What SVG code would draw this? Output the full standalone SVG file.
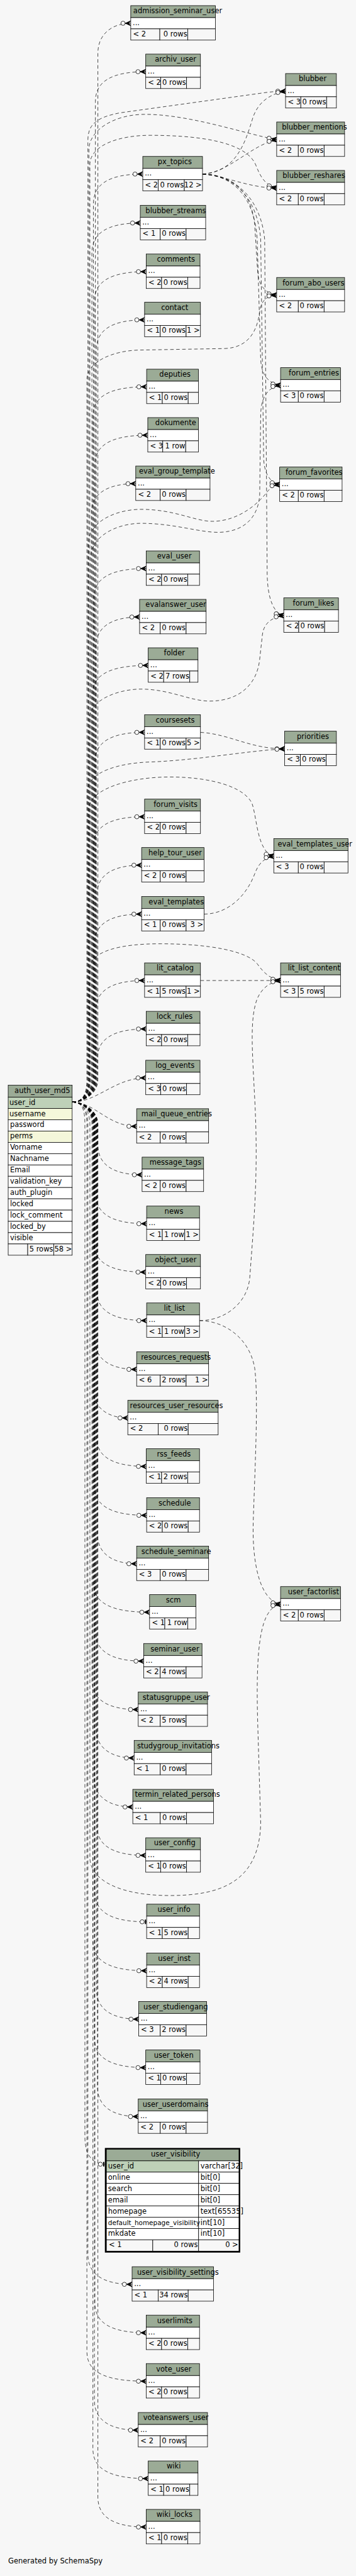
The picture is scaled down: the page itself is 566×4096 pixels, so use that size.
<svg xmlns="http://www.w3.org/2000/svg" width="566" height="4096" viewBox="0 0 566 4096">
<style>
.h{fill:#9bab96;stroke:#000;stroke-width:1}
.b{fill:#fff;stroke:#000;stroke-width:1}
.f{fill:#f7f7f7;stroke:#000;stroke-width:1}
.pk{fill:#bed1b8;stroke:#000;stroke-width:1}
.ix{fill:#f4f7da;stroke:#000;stroke-width:1}
text{font-family:"DejaVu Sans","Liberation Sans",sans-serif;font-size:14.5px;fill:#000}
.r{text-anchor:end}
.e path{fill:none;stroke:#000;stroke-width:0.9;stroke-dasharray:7 5}
</style>
<defs>
<marker id="crow" markerUnits="userSpaceOnUse" markerWidth="24" markerHeight="14" refX="22" refY="7" orient="auto" overflow="visible">
<path d="M11,7 L22,2 L18,7 L22,12 Z M11,7 L22,7" fill="#000" stroke="#000" stroke-width="1"/>
<circle cx="6.5" cy="7" r="4.2" fill="#fff" stroke="#000" stroke-width="1"/>
</marker>
<marker id="tee" markerUnits="userSpaceOnUse" markerWidth="16" markerHeight="14" refX="14" refY="7" orient="auto" overflow="visible">
<circle cx="5" cy="7" r="4.2" fill="#fff" stroke="#000" stroke-width="1"/>
<rect x="10.5" y="2.5" width="2.5" height="9" fill="#000"/>
</marker>
</defs>
<rect x="0" y="0" width="566" height="4096" fill="#f7f7f7"/>
<g transform="scale(0.794)">
<g id="connectors" class="e" marker-end="url(#crow)">
<path d="M144.5,2207 C165,2207 196,2192 196,2162 L196,106.6 C196,68.6 224,46.6 261.8,46.6"/>
<path d="M144.5,2207 C165,2207 191,2192 191,2162 L191,203.6 C191,165.6 219,143.6 291.8,143.6"/>
<path d="M144.5,2207 C165,2207 187,2192 187,2162 L187,408.6 C187,370.6 215,348.6 285.9,348.6"/>
<path d="M144.5,2207 C165,2207 184,2192 184,2162 L184,506.6 C184,468.6 212,446.6 280.9,446.6"/>
<path d="M144.5,2207 C165,2207 189,2192 189,2162 L189,604 C189,566 217,544 292.7,544"/>
<path d="M144.5,2207 C165,2207 193,2192 193,2162 L193,700.6 C193,662.6 221,640.6 289.5,640.6"/>
<path d="M144.5,2207 C165,2207 186,2192 186,2162 L186,834.6 C186,796.6 214,774.6 293.6,774.6"/>
<path d="M144.5,2207 C165,2207 190,2192 190,2162 L190,931.6 C190,893.6 218,871.6 295.9,871.6"/>
<path d="M144.5,2207 C165,2207 183,2192 183,2162 L183,1028.6 C183,990.6 211,968.6 271.8,968.6"/>
<path d="M144.5,2207 C165,2207 188,2192 188,2162 L188,1198.6 C188,1160.6 216,1138.6 292.7,1138.6"/>
<path d="M144.5,2207 C165,2207 192,2192 192,2162 L192,1295.6 C192,1257.6 220,1235.6 279.5,1235.6"/>
<path d="M144.5,2207 C165,2207 185,2192 185,2162 L185,1392.6 C185,1354.6 213,1332.6 296.8,1332.6"/>
<path d="M144.5,2207 C165,2207 190,2192 190,2162 L190,1526.6 C190,1488.6 218,1466.6 289.5,1466.6"/>
<path d="M144.5,2207 C165,2207 187,2192 187,2162 L187,1695.6 C187,1657.6 215,1635.6 289.5,1635.6"/>
<path d="M144.5,2207 C165,2207 194,2192 194,2162 L194,1792.6 C194,1754.6 222,1732.6 283.6,1732.6"/>
<path d="M144.5,2207 C165,2207 189,2192 189,2162 L189,1890.6 C189,1852.6 217,1830.6 283.6,1830.6"/>
<path d="M144.5,2207 C165,2207 192,2192 192,2162 L192,2023.6 C192,1985.6 220,1963.6 289.5,1963.6"/>
<path d="M144.5,2207 C165,2207 195,2192 195,2162 L195,2120.6 C195,2082.6 223,2060.6 292.7,2060.6"/>
<path d="M144.5,2207 C195,2207 230,2158.6 291.8,2158.6"/>
<path d="M144.5,2207 C190,2207 215,2255.6 273.6,2255.6"/>
<path d="M144.5,2207 C165,2207 196,2222 196,2252 L196,2292.6 C196,2330.6 224,2352.6 284.5,2352.6"/>
<path d="M144.5,2207 C165,2207 192,2222 192,2252 L192,2390.6 C192,2428.6 220,2450.6 293.6,2450.6"/>
<path d="M144.5,2207 C165,2207 188,2222 188,2252 L188,2487.6 C188,2525.6 216,2547.6 291.8,2547.6"/>
<path d="M144.5,2207 C165,2207 194,2222 194,2252 L194,2584.6 C194,2622.6 222,2644.6 293.6,2644.6"/>
<path d="M144.5,2207 C165,2207 190,2222 190,2252 L190,2682.3 C190,2720.3 218,2742.3 273.6,2742.3"/>
<path d="M144.5,2207 C165,2207 186,2222 186,2252 L186,2779.6 C186,2817.6 214,2839.6 255.9,2839.6"/>
<path d="M144.5,2207 C165,2207 193,2222 193,2252 L193,2876.6 C193,2914.6 221,2936.6 292.7,2936.6"/>
<path d="M144.5,2207 C165,2207 189,2222 189,2252 L189,2974.6 C189,3012.6 217,3034.6 293.6,3034.6"/>
<path d="M144.5,2207 C165,2207 195,2222 195,2252 L195,3071.6 C195,3109.6 223,3131.6 273.6,3131.6"/>
<path d="M144.5,2207 C165,2207 187,2222 187,2252 L187,3168.6 C187,3206.6 215,3228.6 299.5,3228.6"/>
<path d="M144.5,2207 C165,2207 191,2222 191,2252 L191,3266.6 C191,3304.6 219,3326.6 287.7,3326.6"/>
<path d="M144.5,2207 C165,2207 184,2222 184,2252 L184,3363.6 C184,3401.6 212,3423.6 276.8,3423.6"/>
<path d="M144.5,2207 C165,2207 192,2222 192,2252 L192,3460.6 C192,3498.6 220,3520.6 268.6,3520.6"/>
<path d="M144.5,2207 C165,2207 188,2222 188,2252 L188,3558.6 C188,3596.6 216,3618.6 265.9,3618.6"/>
<path d="M144.5,2207 C165,2207 194,2222 194,2252 L194,3655.6 C194,3693.6 222,3715.6 291.8,3715.6"/>
<path d="M144.5,2207 C165,2207 190,2222 190,2252 L190,3788.6 C190,3826.6 218,3848.6 293.6,3848.6" marker-end="url(#tee)"/>
<path d="M144.5,2207 C165,2207 186,2222 186,2252 L186,3886.6 C186,3924.6 214,3946.6 293.6,3946.6"/>
<path d="M144.5,2207 C165,2207 193,2222 193,2252 L193,3983.6 C193,4021.6 221,4043.6 277.7,4043.6"/>
<path d="M144.5,2207 C165,2207 189,2222 189,2252 L189,4080.6 C189,4118.6 217,4140.6 291.8,4140.6"/>
<path d="M144.5,2207 C165,2207 195,2222 195,2252 L195,4178.6 C195,4216.6 223,4238.6 276.8,4238.6"/>
<path d="M144.5,2207 C165,2207 170,2222 170,2252 L170,4280 C170,4315 185,4334 210,4334" marker-end="url(#tee)"/>
<path d="M144.5,2207 C165,2207 176,2222 176,2252 L176,4514.6 C176,4552.6 204,4574.6 264.5,4574.6"/>
<path d="M144.5,2207 C165,2207 190,2222 190,2252 L190,4611.6 C190,4649.6 218,4671.6 292.7,4671.6"/>
<path d="M144.5,2207 C165,2207 174,2222 174,2252 L174,4708.6 C174,4746.6 202,4768.6 292.7,4768.6"/>
<path d="M144.5,2207 C165,2207 189,2222 189,2252 L189,4806.6 C189,4844.6 217,4866.6 276.8,4866.6"/>
<path d="M144.5,2207 C165,2207 186,2222 186,2252 L186,4903.6 C186,4941.6 214,4963.6 296.8,4963.6"/>
<path d="M144.5,2207 C165,2207 196,2222 196,2252 L196,5000.6 C196,5038.6 224,5060.6 292.7,5060.6"/>
<path d="M144.5,2207 C165,2207 176,2192 176,2162 L176,280 C176,245 200,234 240,226 L520,187 C540,184 555,182.6 571.8,182.6"/>
<path d="M405.5,348.6 C470,345 490,290 505,240 C515,205 540,188 571.8,182.6"/>
<path d="M144.5,2207 C165,2207 178,2192 178,2162 L178,300 C178,260 230,229 290,229 C380,229 490,268 554,279.6"/>
<path d="M405.5,348.6 C460,345 500,292 554,279.6"/>
<path d="M144.5,2207 C165,2207 180,2192 180,2162 L180,330 C180,290 240,271 300,271 C420,271 495,290 512,330 C522,355 530,370 554,376.6"/>
<path d="M405.5,348.6 C450,352 500,376.6 554,376.6"/>
<path d="M405.5,348.6 C480,350 505,400 510,450 L516,545 C518,575 535,588 554,591"/>
<path d="M144.5,2207 C165,2207 174,2192 174,2162 L174,760 C174,725 225,702 280,701 L450,698 C500,696 515,660 520,625 C523,600 535,593 554,591"/>
<path d="M405.5,348.6 C485,352 512,420 515,480 L522,720 C524,755 540,768 561.8,771.6"/>
<path d="M144.5,2207 C165,2207 181,2192 181,2162 L181,1120 C181,1070 240,1048 282,1048 C350,1048 400,1067 440,1066 C495,1064 518,1030 520,990 L522,830 C523,790 540,775 561.8,771.6"/>
<path d="M405.5,348.6 C488,352 518,420 522,480 L528,920 C530,955 545,967 560,970.6"/>
<path d="M144.5,2207 C165,2207 177,2192 177,2162 L177,1090 C177,1040 240,1020 282,1020 C350,1020 390,1044 425,1044 C480,1044 520,1005 535,985 C543,975 550,972 560,970.6"/>
<path d="M405.5,348.6 C490,352 525,420 530,480 L535,1150 C536,1200 548,1228 568.2,1232.6"/>
<path d="M144.5,2207 C165,2207 179,2192 179,2162 L179,1440 C179,1400 240,1380 282,1380 C340,1380 380,1404 420,1404 C480,1404 515,1370 520,1320 L525,1275 C527,1245 548,1236 568.2,1232.6"/>
<path d="M401.4,1466.6 C460,1470 500,1499.6 570,1499.6"/>
<path d="M144.5,2207 C165,2207 175,2192 175,2162 L175,1585 C175,1545 240,1528 300,1526 C400,1522 490,1504 570,1499.6"/>
<path d="M144.5,2207 C165,2207 178,2192 178,2162 L178,1620 C178,1580 260,1556 340,1556 C420,1556 490,1575 505,1610 C515,1640 515,1706 548.2,1714.6"/>
<path d="M408.6,1830.6 C460,1830 495,1790 510,1750 C518,1728 530,1718 548.2,1714.6"/>
<path d="M401.4,1963.6 L561.8,1963.6"/>
<path d="M144.5,2207 C165,2207 180,2192 180,2162 L180,1940 C180,1905 240,1890 320,1890 C420,1890 495,1905 515,1930 C528,1948 540,1960 561.8,1963.6"/>
<path d="M399.5,2644.6 C450,2645 495,2610 500,2560 C508,2450 518,2350 510,2200 C505,2100 500,2040 515,2000 C525,1978 540,1967 561.8,1963.6"/>
<path d="M399.5,2644.6 C450,2645 500,2680 510,2740 C518,2800 510,2950 507,3050 C505,3130 520,3205 561.8,3212.6"/>
<path d="M144.5,2207 C165,2207 180,2222 180,2252 L180,3720 C180,3765 240,3796 340,3796 C440,3796 520,3770 522,3650 L516,3450 C512,3300 520,3220 561.8,3212.6"/>
</g>
<g id="admission_seminar_user"><rect class="h" x="261.8" y="11.3" width="169.6" height="24"/><rect class="b" x="261.8" y="35.3" width="169.6" height="22.5"/><rect class="f" x="261.8" y="57.8" width="58.2" height="22.5"/><rect class="f" x="320" y="57.8" width="55.9" height="22.5"/><rect class="f" x="375.9" y="57.8" width="55.5" height="22.5"/><text x="266.8" y="26.8">admission_seminar_user</text><text x="265.8" y="49.8">...</text><text x="266.3" y="72.8">&lt; 2</text><text class="r" x="374.9" y="72.8">0 rows</text></g>
<g id="archiv_user"><rect class="h" x="291.8" y="108.3" width="109.6" height="24"/><rect class="b" x="291.8" y="132.3" width="109.6" height="22.5"/><rect class="f" x="291.8" y="154.8" width="30" height="22.5"/><rect class="f" x="321.8" y="154.8" width="51.8" height="22.5"/><rect class="f" x="373.6" y="154.8" width="27.8" height="22.5"/><text x="310" y="123.8">archiv_user</text><text x="295.8" y="146.8">...</text><text x="296.3" y="169.8">&lt; 2</text><text class="r" x="372.6" y="169.8">0 rows</text></g>
<g id="blubber"><rect class="h" x="571.8" y="147.3" width="101.8" height="24"/><rect class="b" x="571.8" y="171.3" width="101.8" height="22.5"/><rect class="f" x="571.8" y="193.8" width="30.5" height="22.5"/><rect class="f" x="602.3" y="193.8" width="51.7" height="22.5"/><rect class="f" x="654" y="193.8" width="19.6" height="22.5"/><text x="598.2" y="162.8">blubber</text><text x="575.8" y="185.8">...</text><text x="576.3" y="208.8">&lt; 3</text><text class="r" x="653" y="208.8">0 rows</text></g>
<g id="blubber_mentions"><rect class="h" x="554" y="244.3" width="136" height="24"/><rect class="b" x="554" y="268.3" width="136" height="22.5"/><rect class="f" x="554" y="290.8" width="43.3" height="22.5"/><rect class="f" x="597.3" y="290.8" width="51.7" height="22.5"/><rect class="f" x="649" y="290.8" width="41" height="22.5"/><text x="564.5" y="259.8">blubber_mentions</text><text x="558" y="282.8">...</text><text x="558.5" y="305.8">&lt; 2</text><text class="r" x="648" y="305.8">0 rows</text></g>
<g id="px_topics"><rect class="h" x="285.9" y="313.3" width="119.6" height="24"/><rect class="b" x="285.9" y="337.3" width="119.6" height="22.5"/><rect class="f" x="285.9" y="359.8" width="30.9" height="22.5"/><rect class="f" x="316.8" y="359.8" width="52.3" height="22.5"/><rect class="f" x="369.1" y="359.8" width="36.4" height="22.5"/><text x="315.9" y="328.8">px_topics</text><text x="289.9" y="351.8">...</text><text x="290.4" y="374.8">&lt; 2</text><text class="r" x="368.1" y="374.8">0 rows</text><text class="r" x="404" y="374.8">12 &gt;</text></g>
<g id="blubber_reshares"><rect class="h" x="554" y="341.3" width="136" height="24"/><rect class="b" x="554" y="365.3" width="136" height="22.5"/><rect class="f" x="554" y="387.8" width="43.3" height="22.5"/><rect class="f" x="597.3" y="387.8" width="51.7" height="22.5"/><rect class="f" x="649" y="387.8" width="41" height="22.5"/><text x="565.9" y="356.8">blubber_reshares</text><text x="558" y="379.8">...</text><text x="558.5" y="402.8">&lt; 2</text><text class="r" x="648" y="402.8">0 rows</text></g>
<g id="blubber_streams"><rect class="h" x="280.9" y="411.3" width="130.9" height="24"/><rect class="b" x="280.9" y="435.3" width="130.9" height="22.5"/><rect class="f" x="280.9" y="457.8" width="40" height="22.5"/><rect class="f" x="320.9" y="457.8" width="51.8" height="22.5"/><rect class="f" x="372.7" y="457.8" width="39.1" height="22.5"/><text x="291.4" y="426.8">blubber_streams</text><text x="284.9" y="449.8">...</text><text x="285.4" y="472.8">&lt; 1</text><text class="r" x="371.7" y="472.8">0 rows</text></g>
<g id="comments"><rect class="h" x="292.7" y="508.7" width="107.8" height="24"/><rect class="b" x="292.7" y="532.7" width="107.8" height="22.5"/><rect class="f" x="292.7" y="555.2" width="30.9" height="22.5"/><rect class="f" x="323.6" y="555.2" width="52.3" height="22.5"/><rect class="f" x="375.9" y="555.2" width="24.6" height="22.5"/><text x="314.1" y="524.2">comments</text><text x="296.7" y="547.2">...</text><text x="297.2" y="570.2">&lt; 2</text><text class="r" x="374.9" y="570.2">0 rows</text></g>
<g id="contact"><rect class="h" x="289.5" y="605.3" width="111.9" height="24"/><rect class="b" x="289.5" y="629.3" width="111.9" height="22.5"/><rect class="f" x="289.5" y="651.8" width="31.4" height="22.5"/><rect class="f" x="320.9" y="651.8" width="51.8" height="22.5"/><rect class="f" x="372.7" y="651.8" width="28.7" height="22.5"/><text x="322.7" y="620.8">contact</text><text x="293.5" y="643.8">...</text><text x="294" y="666.8">&lt; 1</text><text class="r" x="371.7" y="666.8">0 rows</text><text class="r" x="400" y="666.8">1 &gt;</text></g>
<g id="forum_abo_users"><rect class="h" x="554" y="555.7" width="136" height="24"/><rect class="b" x="554" y="579.7" width="136" height="22.5"/><rect class="f" x="554" y="602.2" width="43.3" height="22.5"/><rect class="f" x="597.3" y="602.2" width="51.7" height="22.5"/><rect class="f" x="649" y="602.2" width="41" height="22.5"/><text x="565.9" y="571.2">forum_abo_users</text><text x="558" y="594.2">...</text><text x="558.5" y="617.2">&lt; 2</text><text class="r" x="648" y="617.2">0 rows</text></g>
<g id="forum_entries"><rect class="h" x="561.8" y="736.3" width="120" height="24"/><rect class="b" x="561.8" y="760.3" width="120" height="22.5"/><rect class="f" x="561.8" y="782.8" width="35.5" height="22.5"/><rect class="f" x="597.3" y="782.8" width="51.7" height="22.5"/><rect class="f" x="649" y="782.8" width="32.8" height="22.5"/><text x="578.2" y="751.8">forum_entries</text><text x="565.8" y="774.8">...</text><text x="566.3" y="797.8">&lt; 3</text><text class="r" x="648" y="797.8">0 rows</text></g>
<g id="deputies"><rect class="h" x="293.6" y="739.3" width="103.7" height="24"/><rect class="b" x="293.6" y="763.3" width="103.7" height="22.5"/><rect class="f" x="293.6" y="785.8" width="31.4" height="22.5"/><rect class="f" x="325" y="785.8" width="51.8" height="22.5"/><rect class="f" x="376.8" y="785.8" width="20.5" height="22.5"/><text x="319.1" y="754.8">deputies</text><text x="297.6" y="777.8">...</text><text x="298.1" y="800.8">&lt; 1</text><text class="r" x="375.8" y="800.8">0 rows</text></g>
<g id="dokumente"><rect class="h" x="295.9" y="836.3" width="101.4" height="24"/><rect class="b" x="295.9" y="860.3" width="101.4" height="22.5"/><rect class="f" x="295.9" y="882.8" width="30" height="22.5"/><rect class="f" x="325.9" y="882.8" width="45.9" height="22.5"/><rect class="f" x="371.8" y="882.8" width="25.5" height="22.5"/><text x="310.9" y="851.8">dokumente</text><text x="299.9" y="874.8">...</text><text x="300.4" y="897.8">&lt; 3</text><text class="r" x="370.8" y="897.8">1 row</text></g>
<g id="eval_group_template"><rect class="h" x="271.8" y="933.3" width="148.7" height="24"/><rect class="b" x="271.8" y="957.3" width="148.7" height="22.5"/><rect class="f" x="271.8" y="979.8" width="49.1" height="22.5"/><rect class="f" x="320.9" y="979.8" width="51.8" height="22.5"/><rect class="f" x="372.7" y="979.8" width="47.8" height="22.5"/><text x="278.2" y="948.8">eval_group_template</text><text x="275.8" y="971.8">...</text><text x="276.3" y="994.8">&lt; 2</text><text class="r" x="371.7" y="994.8">0 rows</text></g>
<g id="forum_favorites"><rect class="h" x="560" y="935.3" width="125" height="24"/><rect class="b" x="560" y="959.3" width="125" height="22.5"/><rect class="f" x="560" y="981.8" width="37.3" height="22.5"/><rect class="f" x="597.3" y="981.8" width="51.7" height="22.5"/><rect class="f" x="649" y="981.8" width="36" height="22.5"/><text x="571.8" y="950.8">forum_favorites</text><text x="564" y="973.8">...</text><text x="564.5" y="996.8">&lt; 2</text><text class="r" x="648" y="996.8">0 rows</text></g>
<g id="eval_user"><rect class="h" x="292.7" y="1103.3" width="106.8" height="24"/><rect class="b" x="292.7" y="1127.3" width="106.8" height="22.5"/><rect class="f" x="292.7" y="1149.8" width="30.9" height="22.5"/><rect class="f" x="323.6" y="1149.8" width="52.3" height="22.5"/><rect class="f" x="375.9" y="1149.8" width="23.6" height="22.5"/><text x="314.5" y="1118.8">eval_user</text><text x="296.7" y="1141.8">...</text><text x="297.2" y="1164.8">&lt; 2</text><text class="r" x="374.9" y="1164.8">0 rows</text></g>
<g id="evalanswer_user"><rect class="h" x="279.5" y="1200.3" width="133.2" height="24"/><rect class="b" x="279.5" y="1224.3" width="133.2" height="22.5"/><rect class="f" x="279.5" y="1246.8" width="41.4" height="22.5"/><rect class="f" x="320.9" y="1246.8" width="51.8" height="22.5"/><rect class="f" x="372.7" y="1246.8" width="40" height="22.5"/><text x="291.4" y="1215.8">evalanswer_user</text><text x="283.5" y="1238.8">...</text><text x="284" y="1261.8">&lt; 2</text><text class="r" x="371.7" y="1261.8">0 rows</text></g>
<g id="forum_likes"><rect class="h" x="568.2" y="1197.3" width="109.5" height="24"/><rect class="b" x="568.2" y="1221.3" width="109.5" height="22.5"/><rect class="f" x="568.2" y="1243.8" width="30" height="22.5"/><rect class="f" x="598.2" y="1243.8" width="51.8" height="22.5"/><rect class="f" x="650" y="1243.8" width="27.7" height="22.5"/><text x="586.4" y="1212.8">forum_likes</text><text x="572.2" y="1235.8">...</text><text x="572.7" y="1258.8">&lt; 2</text><text class="r" x="649" y="1258.8">0 rows</text></g>
<g id="folder"><rect class="h" x="296.8" y="1297.3" width="99.6" height="24"/><rect class="b" x="296.8" y="1321.3" width="99.6" height="22.5"/><rect class="f" x="296.8" y="1343.8" width="30.9" height="22.5"/><rect class="f" x="327.7" y="1343.8" width="52.3" height="22.5"/><rect class="f" x="380" y="1343.8" width="16.4" height="22.5"/><text x="328.2" y="1312.8">folder</text><text x="300.8" y="1335.8">...</text><text x="301.3" y="1358.8">&lt; 2</text><text class="r" x="379" y="1358.8">7 rows</text></g>
<g id="coursesets"><rect class="h" x="289.5" y="1431.3" width="111.9" height="24"/><rect class="b" x="289.5" y="1455.3" width="111.9" height="22.5"/><rect class="f" x="289.5" y="1477.8" width="31.4" height="22.5"/><rect class="f" x="320.9" y="1477.8" width="51.8" height="22.5"/><rect class="f" x="372.7" y="1477.8" width="28.7" height="22.5"/><text x="311.8" y="1446.8">coursesets</text><text x="293.5" y="1469.8">...</text><text x="294" y="1492.8">&lt; 1</text><text class="r" x="371.7" y="1492.8">0 rows</text><text class="r" x="400" y="1492.8">5 &gt;</text></g>
<g id="priorities"><rect class="h" x="570" y="1464.3" width="103.6" height="24"/><rect class="b" x="570" y="1488.3" width="103.6" height="22.5"/><rect class="f" x="570" y="1510.8" width="31.4" height="22.5"/><rect class="f" x="601.4" y="1510.8" width="51.8" height="22.5"/><rect class="f" x="653.2" y="1510.8" width="20.4" height="22.5"/><text x="594.5" y="1479.8">priorities</text><text x="574" y="1502.8">...</text><text x="574.5" y="1525.8">&lt; 3</text><text class="r" x="652.2" y="1525.8">0 rows</text></g>
<g id="forum_visits"><rect class="h" x="289.5" y="1600.3" width="111.9" height="24"/><rect class="b" x="289.5" y="1624.3" width="111.9" height="22.5"/><rect class="f" x="289.5" y="1646.8" width="31.4" height="22.5"/><rect class="f" x="320.9" y="1646.8" width="51.8" height="22.5"/><rect class="f" x="372.7" y="1646.8" width="28.7" height="22.5"/><text x="307.7" y="1615.8">forum_visits</text><text x="293.5" y="1638.8">...</text><text x="294" y="1661.8">&lt; 2</text><text class="r" x="371.7" y="1661.8">0 rows</text></g>
<g id="help_tour_user"><rect class="h" x="283.6" y="1697.3" width="125" height="24"/><rect class="b" x="283.6" y="1721.3" width="125" height="22.5"/><rect class="f" x="283.6" y="1743.8" width="37.3" height="22.5"/><rect class="f" x="320.9" y="1743.8" width="51.8" height="22.5"/><rect class="f" x="372.7" y="1743.8" width="35.9" height="22.5"/><text x="297.3" y="1712.8">help_tour_user</text><text x="287.6" y="1735.8">...</text><text x="288.1" y="1758.8">&lt; 2</text><text class="r" x="371.7" y="1758.8">0 rows</text></g>
<g id="eval_templates_user"><rect class="h" x="548.2" y="1679.3" width="148.6" height="24"/><rect class="b" x="548.2" y="1703.3" width="148.6" height="22.5"/><rect class="f" x="548.2" y="1725.8" width="49.1" height="22.5"/><rect class="f" x="597.3" y="1725.8" width="51.7" height="22.5"/><rect class="f" x="649" y="1725.8" width="47.8" height="22.5"/><text x="555.9" y="1694.8">eval_templates_user</text><text x="552.2" y="1717.8">...</text><text x="552.7" y="1740.8">&lt; 3</text><text class="r" x="648" y="1740.8">0 rows</text></g>
<g id="eval_templates"><rect class="h" x="283.6" y="1795.3" width="125" height="24"/><rect class="b" x="283.6" y="1819.3" width="125" height="22.5"/><rect class="f" x="283.6" y="1841.8" width="37.3" height="22.5"/><rect class="f" x="320.9" y="1841.8" width="51.8" height="22.5"/><rect class="f" x="372.7" y="1841.8" width="35.9" height="22.5"/><text x="297.7" y="1810.8">eval_templates</text><text x="287.6" y="1833.8">...</text><text x="288.1" y="1856.8">&lt; 1</text><text class="r" x="371.7" y="1856.8">0 rows</text><text class="r" x="407" y="1856.8">3 &gt;</text></g>
<g id="lit_catalog"><rect class="h" x="289.5" y="1928.3" width="111.9" height="24"/><rect class="b" x="289.5" y="1952.3" width="111.9" height="22.5"/><rect class="f" x="289.5" y="1974.8" width="31.4" height="22.5"/><rect class="f" x="320.9" y="1974.8" width="51.8" height="22.5"/><rect class="f" x="372.7" y="1974.8" width="28.7" height="22.5"/><text x="313.6" y="1943.8">lit_catalog</text><text x="293.5" y="1966.8">...</text><text x="294" y="1989.8">&lt; 1</text><text class="r" x="371.7" y="1989.8">5 rows</text><text class="r" x="400" y="1989.8">1 &gt;</text></g>
<g id="lit_list_content"><rect class="h" x="561.8" y="1928.3" width="120" height="24"/><rect class="b" x="561.8" y="1952.3" width="120" height="22.5"/><rect class="f" x="561.8" y="1974.8" width="35.5" height="22.5"/><rect class="f" x="597.3" y="1974.8" width="51.7" height="22.5"/><rect class="f" x="649" y="1974.8" width="32.8" height="22.5"/><text x="576.4" y="1943.8">lit_list_content</text><text x="565.8" y="1966.8">...</text><text x="566.3" y="1989.8">&lt; 3</text><text class="r" x="648" y="1989.8">5 rows</text></g>
<g id="lock_rules"><rect class="h" x="292.7" y="2025.3" width="107.8" height="24"/><rect class="b" x="292.7" y="2049.3" width="107.8" height="22.5"/><rect class="f" x="292.7" y="2071.8" width="30.9" height="22.5"/><rect class="f" x="323.6" y="2071.8" width="52.3" height="22.5"/><rect class="f" x="375.9" y="2071.8" width="24.6" height="22.5"/><text x="313.6" y="2040.8">lock_rules</text><text x="296.7" y="2063.8">...</text><text x="297.2" y="2086.8">&lt; 2</text><text class="r" x="374.9" y="2086.8">0 rows</text></g>
<g id="log_events"><rect class="h" x="291.8" y="2123.3" width="108.7" height="24"/><rect class="b" x="291.8" y="2147.3" width="108.7" height="22.5"/><rect class="f" x="291.8" y="2169.8" width="30" height="22.5"/><rect class="f" x="321.8" y="2169.8" width="51.8" height="22.5"/><rect class="f" x="373.6" y="2169.8" width="26.9" height="22.5"/><text x="311.4" y="2138.8">log_events</text><text x="295.8" y="2161.8">...</text><text x="296.3" y="2184.8">&lt; 3</text><text class="r" x="372.6" y="2184.8">0 rows</text></g>
<g id="auth_user_md5">
<rect class="h" x="16.4" y="2173.3" width="128.1" height="24"/>
<rect class="pk" x="16.4" y="2197.3" width="128.1" height="22.6"/>
<rect class="ix" x="16.4" y="2219.9" width="128.1" height="22.6"/>
<rect class="b" x="16.4" y="2242.5" width="128.1" height="22.6"/>
<rect class="ix" x="16.4" y="2265.1" width="128.1" height="22.6"/>
<rect class="b" x="16.4" y="2287.7" width="128.1" height="22.6"/>
<rect class="b" x="16.4" y="2310.3" width="128.1" height="22.6"/>
<rect class="b" x="16.4" y="2332.9" width="128.1" height="22.6"/>
<rect class="b" x="16.4" y="2355.5" width="128.1" height="22.6"/>
<rect class="b" x="16.4" y="2378.1" width="128.1" height="22.6"/>
<rect class="b" x="16.4" y="2400.7" width="128.1" height="22.6"/>
<rect class="b" x="16.4" y="2423.3" width="128.1" height="22.6"/>
<rect class="b" x="16.4" y="2445.9" width="128.1" height="22.6"/>
<rect class="b" x="16.4" y="2468.5" width="128.1" height="22.6"/>
<rect class="f" x="16.4" y="2491.1" width="39.1" height="22.6"/>
<rect class="f" x="55.5" y="2491.1" width="52.2" height="22.6"/>
<rect class="f" x="107.7" y="2491.1" width="36.8" height="22.6"/>
<text x="29.1" y="2188.8">auth_user_md5</text>
<text x="19" y="2212.3">user_id</text>
<text x="19" y="2234.9">username</text>
<text x="20" y="2257.5">password</text>
<text x="20" y="2280.1">perms</text>
<text x="20" y="2302.7">Vorname</text>
<text x="20" y="2325.3">Nachname</text>
<text x="20" y="2347.9">Email</text>
<text x="20" y="2370.5">validation_key</text>
<text x="20" y="2393.1">auth_plugin</text>
<text x="20" y="2415.7">locked</text>
<text x="20" y="2438.3">lock_comment</text>
<text x="20" y="2460.9">locked_by</text>
<text x="20" y="2483.5">visible</text>
<text class="r" x="106.5" y="2506.1">5 rows</text>
<text class="r" x="144" y="2506.1">58 &gt;</text>
</g>
<g id="mail_queue_entries"><rect class="h" x="273.6" y="2220.3" width="144.1" height="24"/><rect class="b" x="273.6" y="2244.3" width="144.1" height="22.5"/><rect class="f" x="273.6" y="2266.8" width="47.3" height="22.5"/><rect class="f" x="320.9" y="2266.8" width="51.8" height="22.5"/><rect class="f" x="372.7" y="2266.8" width="45" height="22.5"/><text x="283.2" y="2235.8">mail_queue_entries</text><text x="277.6" y="2258.8">...</text><text x="278.1" y="2281.8">&lt; 2</text><text class="r" x="371.7" y="2281.8">0 rows</text></g>
<g id="message_tags"><rect class="h" x="284.5" y="2317.3" width="123.2" height="24"/><rect class="b" x="284.5" y="2341.3" width="123.2" height="22.5"/><rect class="f" x="284.5" y="2363.8" width="36.4" height="22.5"/><rect class="f" x="320.9" y="2363.8" width="51.8" height="22.5"/><rect class="f" x="372.7" y="2363.8" width="35" height="22.5"/><text x="299.5" y="2332.8">message_tags</text><text x="288.5" y="2355.8">...</text><text x="289" y="2378.8">&lt; 2</text><text class="r" x="371.7" y="2378.8">0 rows</text></g>
<g id="news"><rect class="h" x="293.6" y="2415.3" width="105.9" height="24"/><rect class="b" x="293.6" y="2439.3" width="105.9" height="22.5"/><rect class="f" x="293.6" y="2461.8" width="31.4" height="22.5"/><rect class="f" x="325" y="2461.8" width="45" height="22.5"/><rect class="f" x="370" y="2461.8" width="29.5" height="22.5"/><text x="329.5" y="2430.8">news</text><text x="297.6" y="2453.8">...</text><text x="298.1" y="2476.8">&lt; 1</text><text class="r" x="369" y="2476.8">1 row</text><text class="r" x="398" y="2476.8">1 &gt;</text></g>
<g id="object_user"><rect class="h" x="291.8" y="2512.3" width="109.6" height="24"/><rect class="b" x="291.8" y="2536.3" width="109.6" height="22.5"/><rect class="f" x="291.8" y="2558.8" width="30" height="22.5"/><rect class="f" x="321.8" y="2558.8" width="51.8" height="22.5"/><rect class="f" x="373.6" y="2558.8" width="27.8" height="22.5"/><text x="310" y="2527.8">object_user</text><text x="295.8" y="2550.8">...</text><text x="296.3" y="2573.8">&lt; 2</text><text class="r" x="372.6" y="2573.8">0 rows</text></g>
<g id="lit_list"><rect class="h" x="293.6" y="2609.3" width="105.9" height="24"/><rect class="b" x="293.6" y="2633.3" width="105.9" height="22.5"/><rect class="f" x="293.6" y="2655.8" width="31.4" height="22.5"/><rect class="f" x="325" y="2655.8" width="45" height="22.5"/><rect class="f" x="370" y="2655.8" width="29.5" height="22.5"/><text x="328.2" y="2624.8">lit_list</text><text x="297.6" y="2647.8">...</text><text x="298.1" y="2670.8">&lt; 1</text><text class="r" x="369" y="2670.8">1 row</text><text class="r" x="398" y="2670.8">3 &gt;</text></g>
<g id="resources_requests"><rect class="h" x="273.6" y="2707" width="144.1" height="24"/><rect class="b" x="273.6" y="2731" width="144.1" height="22.5"/><rect class="f" x="273.6" y="2753.5" width="47.3" height="22.5"/><rect class="f" x="320.9" y="2753.5" width="51.8" height="22.5"/><rect class="f" x="372.7" y="2753.5" width="45" height="22.5"/><text x="282.3" y="2722.5">resources_requests</text><text x="277.6" y="2745.5">...</text><text x="278.1" y="2768.5">&lt; 6</text><text class="r" x="371.7" y="2768.5">2 rows</text><text class="r" x="416.5" y="2768.5">1 &gt;</text></g>
<g id="resources_user_resources"><rect class="h" x="255.9" y="2804.3" width="180.9" height="24"/><rect class="b" x="255.9" y="2828.3" width="180.9" height="22.5"/><rect class="f" x="255.9" y="2850.8" width="60.9" height="22.5"/><rect class="f" x="316.8" y="2850.8" width="60" height="22.5"/><rect class="f" x="376.8" y="2850.8" width="60" height="22.5"/><text x="260" y="2819.8">resources_user_resources</text><text x="259.9" y="2842.8">...</text><text x="260.4" y="2865.8">&lt; 2</text><text class="r" x="375.8" y="2865.8">0 rows</text></g>
<g id="rss_feeds"><rect class="h" x="292.7" y="2901.3" width="106.8" height="24"/><rect class="b" x="292.7" y="2925.3" width="106.8" height="22.5"/><rect class="f" x="292.7" y="2947.8" width="30.9" height="22.5"/><rect class="f" x="323.6" y="2947.8" width="52.3" height="22.5"/><rect class="f" x="375.9" y="2947.8" width="23.6" height="22.5"/><text x="314.1" y="2916.8">rss_feeds</text><text x="296.7" y="2939.8">...</text><text x="297.2" y="2962.8">&lt; 1</text><text class="r" x="374.9" y="2962.8">2 rows</text></g>
<g id="schedule"><rect class="h" x="293.6" y="2999.3" width="105.9" height="24"/><rect class="b" x="293.6" y="3023.3" width="105.9" height="22.5"/><rect class="f" x="293.6" y="3045.8" width="31.4" height="22.5"/><rect class="f" x="325" y="3045.8" width="51.8" height="22.5"/><rect class="f" x="376.8" y="3045.8" width="22.7" height="22.5"/><text x="317.3" y="3014.8">schedule</text><text x="297.6" y="3037.8">...</text><text x="298.1" y="3060.8">&lt; 2</text><text class="r" x="375.8" y="3060.8">0 rows</text></g>
<g id="schedule_seminare"><rect class="h" x="273.6" y="3096.3" width="144.1" height="24"/><rect class="b" x="273.6" y="3120.3" width="144.1" height="22.5"/><rect class="f" x="273.6" y="3142.8" width="47.3" height="22.5"/><rect class="f" x="320.9" y="3142.8" width="51.8" height="22.5"/><rect class="f" x="372.7" y="3142.8" width="45" height="22.5"/><text x="283.2" y="3111.8">schedule_seminare</text><text x="277.6" y="3134.8">...</text><text x="278.1" y="3157.8">&lt; 3</text><text class="r" x="371.7" y="3157.8">0 rows</text></g>
<g id="scm"><rect class="h" x="299.5" y="3193.3" width="92.8" height="24"/><rect class="b" x="299.5" y="3217.3" width="92.8" height="22.5"/><rect class="f" x="299.5" y="3239.8" width="30.5" height="22.5"/><rect class="f" x="330" y="3239.8" width="45.9" height="22.5"/><rect class="f" x="375.9" y="3239.8" width="16.4" height="22.5"/><text x="332.3" y="3208.8">scm</text><text x="303.5" y="3231.8">...</text><text x="304" y="3254.8">&lt; 1</text><text class="r" x="374.9" y="3254.8">1 row</text></g>
<g id="user_factorlist"><rect class="h" x="561.8" y="3177.3" width="120" height="24"/><rect class="b" x="561.8" y="3201.3" width="120" height="22.5"/><rect class="f" x="561.8" y="3223.8" width="35.5" height="22.5"/><rect class="f" x="597.3" y="3223.8" width="51.7" height="22.5"/><rect class="f" x="649" y="3223.8" width="32.8" height="22.5"/><text x="576.4" y="3192.8">user_factorlist</text><text x="565.8" y="3215.8">...</text><text x="566.3" y="3238.8">&lt; 2</text><text class="r" x="648" y="3238.8">0 rows</text></g>
<g id="seminar_user"><rect class="h" x="287.7" y="3291.3" width="116.8" height="24"/><rect class="b" x="287.7" y="3315.3" width="116.8" height="22.5"/><rect class="f" x="287.7" y="3337.8" width="33.2" height="22.5"/><rect class="f" x="320.9" y="3337.8" width="51.8" height="22.5"/><rect class="f" x="372.7" y="3337.8" width="31.8" height="22.5"/><text x="301.4" y="3306.8">seminar_user</text><text x="291.7" y="3329.8">...</text><text x="292.2" y="3352.8">&lt; 2</text><text class="r" x="371.7" y="3352.8">4 rows</text></g>
<g id="statusgruppe_user"><rect class="h" x="276.8" y="3388.3" width="138.7" height="24"/><rect class="b" x="276.8" y="3412.3" width="138.7" height="22.5"/><rect class="f" x="276.8" y="3434.8" width="44.1" height="22.5"/><rect class="f" x="320.9" y="3434.8" width="51.8" height="22.5"/><rect class="f" x="372.7" y="3434.8" width="42.8" height="22.5"/><text x="285.5" y="3403.8">statusgruppe_user</text><text x="280.8" y="3426.8">...</text><text x="281.3" y="3449.8">&lt; 2</text><text class="r" x="371.7" y="3449.8">5 rows</text></g>
<g id="studygroup_invitations"><rect class="h" x="268.6" y="3485.3" width="155" height="24"/><rect class="b" x="268.6" y="3509.3" width="155" height="22.5"/><rect class="f" x="268.6" y="3531.8" width="52.3" height="22.5"/><rect class="f" x="320.9" y="3531.8" width="51.8" height="22.5"/><rect class="f" x="372.7" y="3531.8" width="50.9" height="22.5"/><text x="274.5" y="3500.8">studygroup_invitations</text><text x="272.6" y="3523.8">...</text><text x="273.1" y="3546.8">&lt; 1</text><text class="r" x="371.7" y="3546.8">0 rows</text></g>
<g id="termin_related_persons"><rect class="h" x="265.9" y="3583.3" width="161.8" height="24"/><rect class="b" x="265.9" y="3607.3" width="161.8" height="22.5"/><rect class="f" x="265.9" y="3629.8" width="55" height="22.5"/><rect class="f" x="320.9" y="3629.8" width="52.7" height="22.5"/><rect class="f" x="373.6" y="3629.8" width="54.1" height="22.5"/><text x="270" y="3598.8">termin_related_persons</text><text x="269.9" y="3621.8">...</text><text x="270.4" y="3644.8">&lt; 1</text><text class="r" x="372.6" y="3644.8">0 rows</text></g>
<g id="user_config"><rect class="h" x="291.8" y="3680.3" width="109.6" height="24"/><rect class="b" x="291.8" y="3704.3" width="109.6" height="22.5"/><rect class="f" x="291.8" y="3726.8" width="30" height="22.5"/><rect class="f" x="321.8" y="3726.8" width="51.8" height="22.5"/><rect class="f" x="373.6" y="3726.8" width="27.8" height="22.5"/><text x="308.2" y="3695.8">user_config</text><text x="295.8" y="3718.8">...</text><text x="296.3" y="3741.8">&lt; 1</text><text class="r" x="372.6" y="3741.8">0 rows</text></g>
<g id="user_info"><rect class="h" x="293.6" y="3813.3" width="105.9" height="24"/><rect class="b" x="293.6" y="3837.3" width="105.9" height="22.5"/><rect class="f" x="293.6" y="3859.8" width="31.4" height="22.5"/><rect class="f" x="325" y="3859.8" width="51.8" height="22.5"/><rect class="f" x="376.8" y="3859.8" width="22.7" height="22.5"/><text x="315.5" y="3828.8">user_info</text><text x="297.6" y="3851.8">...</text><text x="298.1" y="3874.8">&lt; 1</text><text class="r" x="375.8" y="3874.8">5 rows</text></g>
<g id="user_inst"><rect class="h" x="293.6" y="3911.3" width="105.9" height="24"/><rect class="b" x="293.6" y="3935.3" width="105.9" height="22.5"/><rect class="f" x="293.6" y="3957.8" width="31.4" height="22.5"/><rect class="f" x="325" y="3957.8" width="51.8" height="22.5"/><rect class="f" x="376.8" y="3957.8" width="22.7" height="22.5"/><text x="316.4" y="3926.8">user_inst</text><text x="297.6" y="3949.8">...</text><text x="298.1" y="3972.8">&lt; 2</text><text class="r" x="375.8" y="3972.8">4 rows</text></g>
<g id="user_studiengang"><rect class="h" x="277.7" y="4008.3" width="135.9" height="24"/><rect class="b" x="277.7" y="4032.3" width="135.9" height="22.5"/><rect class="f" x="277.7" y="4054.8" width="43.2" height="22.5"/><rect class="f" x="320.9" y="4054.8" width="51.8" height="22.5"/><rect class="f" x="372.7" y="4054.8" width="40.9" height="22.5"/><text x="287.3" y="4023.8">user_studiengang</text><text x="281.7" y="4046.8">...</text><text x="282.2" y="4069.8">&lt; 3</text><text class="r" x="371.7" y="4069.8">2 rows</text></g>
<g id="user_token"><rect class="h" x="291.8" y="4105.3" width="108.7" height="24"/><rect class="b" x="291.8" y="4129.3" width="108.7" height="22.5"/><rect class="f" x="291.8" y="4151.8" width="30" height="22.5"/><rect class="f" x="321.8" y="4151.8" width="51.8" height="22.5"/><rect class="f" x="373.6" y="4151.8" width="26.9" height="22.5"/><text x="308.2" y="4120.8">user_token</text><text x="295.8" y="4143.8">...</text><text x="296.3" y="4166.8">&lt; 1</text><text class="r" x="372.6" y="4166.8">0 rows</text></g>
<g id="user_userdomains"><rect class="h" x="276.8" y="4203.3" width="138.7" height="24"/><rect class="b" x="276.8" y="4227.3" width="138.7" height="22.5"/><rect class="f" x="276.8" y="4249.8" width="44.1" height="22.5"/><rect class="f" x="320.9" y="4249.8" width="51.8" height="22.5"/><rect class="f" x="372.7" y="4249.8" width="42.8" height="22.5"/><text x="285.5" y="4218.8">user_userdomains</text><text x="280.8" y="4241.8">...</text><text x="281.3" y="4264.8">&lt; 2</text><text class="r" x="371.7" y="4264.8">0 rows</text></g>
<g id="user_visibility">
<rect class="h" x="213" y="4303.5" width="266" height="23.8"/>
<rect class="pk" x="213" y="4327.3" width="184.7" height="22.6"/><rect class="b" x="397.7" y="4327.3" width="81.3" height="22.6"/>
<rect class="b" x="213" y="4349.9" width="184.7" height="22.6"/><rect class="b" x="397.7" y="4349.9" width="81.3" height="22.6"/>
<rect class="b" x="213" y="4372.5" width="184.7" height="22.6"/><rect class="b" x="397.7" y="4372.5" width="81.3" height="22.6"/>
<rect class="b" x="213" y="4395.1" width="184.7" height="22.6"/><rect class="b" x="397.7" y="4395.1" width="81.3" height="22.6"/>
<rect class="b" x="213" y="4417.7" width="184.7" height="22.6"/><rect class="b" x="397.7" y="4417.7" width="81.3" height="22.6"/>
<rect class="b" x="213" y="4440.3" width="184.7" height="22.6"/><rect class="b" x="397.7" y="4440.3" width="81.3" height="22.6"/>
<rect class="b" x="213" y="4462.9" width="184.7" height="22.6"/><rect class="b" x="397.7" y="4462.9" width="81.3" height="22.6"/>
<rect class="f" x="213" y="4485.5" width="92.9" height="22.8"/><rect class="f" x="305.9" y="4485.5" width="91.8" height="22.8"/><rect class="f" x="397.7" y="4485.5" width="81.3" height="22.8"/>
<rect x="211.5" y="4303" width="268" height="206.5" fill="none" stroke="#000" stroke-width="3"/>
<text x="302.3" y="4319">user_visibility</text>
<text x="216.4" y="4342.3">user_id</text><text x="401.4" y="4342.3">varchar[32]</text>
<text x="216.4" y="4364.9">online</text><text x="401.4" y="4364.9">bit[0]</text>
<text x="216.4" y="4387.5">search</text><text x="401.4" y="4387.5">bit[0]</text>
<text x="216.4" y="4410.1">email</text><text x="401.4" y="4410.1">bit[0]</text>
<text x="216.4" y="4432.7">homepage</text><text x="401.4" y="4432.7">text[65535]</text>
<text x="216.4" y="4455.3" style="font-size:13.2px">default_homepage_visibility</text><text x="401.4" y="4455.3">int[10]</text>
<text x="216.4" y="4477.9">mkdate</text><text x="401.4" y="4477.9">int[10]</text>
<text x="218" y="4500.5">&lt; 1</text><text class="r" x="396" y="4500.5">0 rows</text><text class="r" x="477" y="4500.5">0 &gt;</text>
</g>
<g id="user_visibility_settings"><rect class="h" x="264.5" y="4539.3" width="163.2" height="24"/><rect class="b" x="264.5" y="4563.3" width="163.2" height="22.5"/><rect class="f" x="264.5" y="4585.8" width="52.3" height="22.5"/><rect class="f" x="316.8" y="4585.8" width="60" height="22.5"/><rect class="f" x="376.8" y="4585.8" width="50.9" height="22.5"/><text x="274.5" y="4554.8">user_visibility_settings</text><text x="268.5" y="4577.8">...</text><text x="269" y="4600.8">&lt; 1</text><text class="r" x="375.8" y="4600.8">34 rows</text></g>
<g id="userlimits"><rect class="h" x="292.7" y="4636.3" width="106.8" height="24"/><rect class="b" x="292.7" y="4660.3" width="106.8" height="22.5"/><rect class="f" x="292.7" y="4682.8" width="30.9" height="22.5"/><rect class="f" x="323.6" y="4682.8" width="52.3" height="22.5"/><rect class="f" x="375.9" y="4682.8" width="23.6" height="22.5"/><text x="314.5" y="4651.8">userlimits</text><text x="296.7" y="4674.8">...</text><text x="297.2" y="4697.8">&lt; 2</text><text class="r" x="374.9" y="4697.8">0 rows</text></g>
<g id="vote_user"><rect class="h" x="292.7" y="4733.3" width="106.8" height="24"/><rect class="b" x="292.7" y="4757.3" width="106.8" height="22.5"/><rect class="f" x="292.7" y="4779.8" width="30.9" height="22.5"/><rect class="f" x="323.6" y="4779.8" width="52.3" height="22.5"/><rect class="f" x="375.9" y="4779.8" width="23.6" height="22.5"/><text x="312.7" y="4748.8">vote_user</text><text x="296.7" y="4771.8">...</text><text x="297.2" y="4794.8">&lt; 2</text><text class="r" x="374.9" y="4794.8">0 rows</text></g>
<g id="voteanswers_user"><rect class="h" x="276.8" y="4831.3" width="138.7" height="24"/><rect class="b" x="276.8" y="4855.3" width="138.7" height="22.5"/><rect class="f" x="276.8" y="4877.8" width="44.1" height="22.5"/><rect class="f" x="320.9" y="4877.8" width="51.8" height="22.5"/><rect class="f" x="372.7" y="4877.8" width="42.8" height="22.5"/><text x="286.8" y="4846.8">voteanswers_user</text><text x="280.8" y="4869.8">...</text><text x="281.3" y="4892.8">&lt; 2</text><text class="r" x="371.7" y="4892.8">0 rows</text></g>
<g id="wiki"><rect class="h" x="296.8" y="4928.3" width="99.6" height="24"/><rect class="b" x="296.8" y="4952.3" width="99.6" height="22.5"/><rect class="f" x="296.8" y="4974.8" width="30.9" height="22.5"/><rect class="f" x="327.7" y="4974.8" width="52.3" height="22.5"/><rect class="f" x="380" y="4974.8" width="16.4" height="22.5"/><text x="333.6" y="4943.8">wiki</text><text x="300.8" y="4966.8">...</text><text x="301.3" y="4989.8">&lt; 1</text><text class="r" x="379" y="4989.8">0 rows</text></g>
<g id="wiki_locks"><rect class="h" x="292.7" y="5025.3" width="107.8" height="24"/><rect class="b" x="292.7" y="5049.3" width="107.8" height="22.5"/><rect class="f" x="292.7" y="5071.8" width="30.9" height="22.5"/><rect class="f" x="323.6" y="5071.8" width="52.3" height="22.5"/><rect class="f" x="375.9" y="5071.8" width="24.6" height="22.5"/><text x="313.2" y="5040.8">wiki_locks</text><text x="296.7" y="5063.8">...</text><text x="297.2" y="5086.8">&lt; 1</text><text class="r" x="374.9" y="5086.8">0 rows</text></g>
<text x="16.4" y="5134">Generated by SchemaSpy</text>
</g>
</svg>
